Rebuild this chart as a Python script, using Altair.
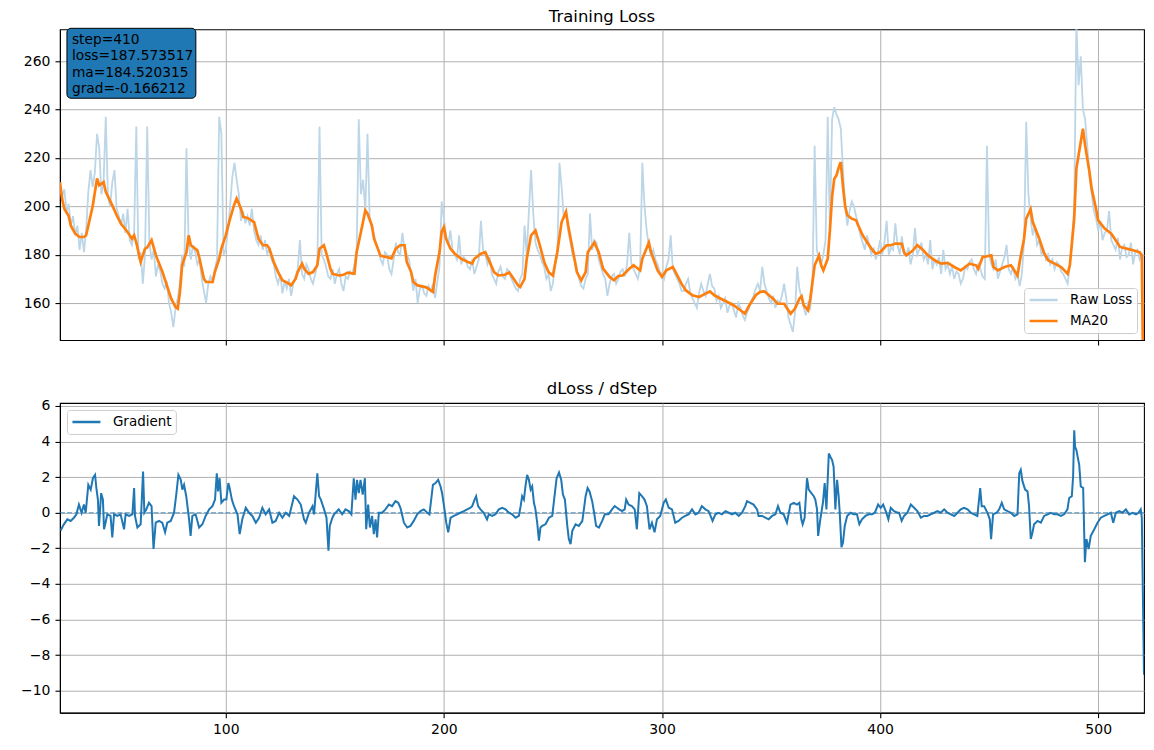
import altair as alt
import pandas as pd

# ---------------- data ----------------
first_step = 24
raw_loss = [
    209, 204, 207, 198, 201, 192, 196, 188, 192, 182,
    189, 181, 190, 206, 215, 208, 214, 230, 224, 205,
    210, 237, 204, 200, 210, 215, 199, 196, 192, 197,
    189, 199, 186, 184, 189, 233, 178, 181, 168, 180,
    233, 185, 178, 182, 171, 176, 173, 168, 166, 169,
    160, 156, 150, 158, 162, 168, 180, 175, 224, 185,
    178, 184, 181, 176, 178, 170, 165, 160, 168, 171,
    169, 174, 178, 237, 230, 180, 182, 190, 200, 212,
    218, 211, 205, 194, 198, 193, 196, 192, 199, 190,
    186, 184, 188, 182, 186, 180, 183, 178, 176, 171,
    168, 172, 164, 169, 166, 170, 163, 168, 171, 174,
    186, 172, 170, 176, 174, 170, 168, 172, 176, 233,
    180, 178, 175, 171, 170, 174, 168, 172, 174, 168,
    165, 171, 170, 173, 172, 176, 180, 236, 205, 211,
    198, 230, 195, 191, 188, 184, 182, 178, 176, 181,
    180, 174, 172, 178, 185, 181, 180, 189, 182, 180,
    178, 172, 165, 170, 160, 166, 167, 164, 163, 167,
    165, 168, 162, 169, 175, 202, 195, 188, 184, 190,
    182, 180, 178, 188, 176, 179, 178, 175, 174, 178,
    172, 175, 178, 194, 182, 180, 176, 179, 172, 170,
    168, 173, 175, 171, 170, 174, 173, 170, 168, 166,
    165, 170, 172, 192, 180, 198, 215, 197, 185, 182,
    180, 177, 175, 170, 172, 165, 168, 176, 180, 218,
    208, 195, 198, 190, 185, 180, 178, 174, 170, 167,
    166, 170, 172, 197, 182, 186, 185, 178, 175, 172,
    170, 163, 168, 171, 172, 168, 170, 173, 174, 171,
    176, 189, 176, 174, 172, 170, 175, 218, 200, 190,
    183, 180, 182, 178, 176, 173, 172, 170, 175, 178,
    188, 174, 172, 170, 168, 165, 165, 168, 170, 164,
    162, 160, 158, 164, 168, 165, 163, 168, 172, 167,
    166, 161, 163, 158, 160, 162, 156, 159, 160, 157,
    154, 160, 158, 155, 153, 156, 158, 161, 163, 166,
    168, 165, 175, 168, 165, 162, 160, 163, 158, 161,
    160, 163, 168, 162, 154, 151, 148, 156, 175, 166,
    162, 158, 155, 160, 158, 168, 225, 182, 178, 176,
    180, 186, 237, 190, 236, 241, 238, 236, 232, 215,
    200, 192, 198, 202, 200, 196, 192, 188, 185, 182,
    188, 184, 180, 183, 178, 181, 186, 180, 185, 194,
    180, 183, 182, 193, 184, 180, 187.6, 180, 180, 183,
    176, 180, 191, 180, 182, 185, 178, 180, 176, 186,
    174, 178, 176, 179, 172, 182, 174, 176, 172, 175,
    170, 173, 172, 168, 170, 175, 174, 177, 178, 174,
    172, 176, 174, 171, 170, 225, 180, 176, 174, 178,
    170, 173, 176, 179, 184, 174, 172, 175, 170, 172,
    167, 172, 185, 235, 205, 195, 188, 192, 184, 186,
    180, 182, 178, 180, 176, 178, 174, 177, 176, 173,
    172, 170, 168, 176, 185, 200, 276, 250, 262, 240,
    236, 225, 212, 205, 198, 195, 190, 194, 186, 189,
    190, 198, 186, 184, 182, 187, 178, 183, 184, 179,
    180, 185, 176, 181, 182, 178, 180, 178,
]
raw_steps = list(range(first_step, first_step + len(raw_loss)))

ma20_points = [
    (24, 210), (25, 203), (26, 199), (28, 196), (29, 192), (31, 188.7), (33, 187.3),
    (35, 187.3), (36, 188), (37, 192), (39, 200), (41, 211.5), (42, 208.7), (44, 210),
    (45, 206), (48, 200.4), (50, 196.3), (52, 192.8), (55, 189.4), (57, 186.6), (58, 188),
    (59, 185), (60, 181), (61, 177), (63, 182.5), (64, 183), (66, 186), (68, 179.7),
    (71, 172.8), (73, 167.3), (75, 161.8), (77, 158.3), (78, 157.7), (79, 164.5),
    (80, 175.6), (82, 181), (83, 188), (84, 183.9), (87, 181.8), (88, 178.3), (90, 170),
    (91, 168.7), (94, 168.7), (95, 172.8), (97, 178.3), (98, 182.5), (100, 188),
    (102, 194.9), (104, 201), (105, 203.2), (107, 199), (108, 195.6), (110, 195.2),
    (113, 193.5), (115, 186.6), (117, 183.9), (119, 183.9), (120, 182.5), (122, 177),
    (124, 172.8), (126, 169.4), (129, 168), (130, 167.3), (132, 170), (133, 172.8),
    (135, 176.3), (136, 174.2), (138, 172.1), (140, 172.8), (142, 175.6), (143, 182.5),
    (145, 183.9), (146, 181), (148, 174.2), (149, 172.1), (152, 171.4), (154, 171.7),
    (156, 172.6), (159, 172.1), (160, 181), (162, 189.4), (164, 198.3), (165, 197),
    (167, 192.1), (168, 186.6), (171, 179.5), (174, 179), (176, 178.5), (178, 182.5),
    (180, 183.9), (182, 183.9), (183, 177), (185, 172.8), (186, 168.7), (188, 167.3),
    (192, 166.5), (194, 165.2), (195, 164.6), (196, 171.4), (198, 181), (199, 189.4),
    (200, 191.4), (201, 186.6), (203, 182.5), (205, 180.4), (208, 178.3), (211, 177),
    (213, 176.3), (214, 178.3), (217, 180.4), (219, 181), (221, 177), (223, 172.8),
    (225, 171.4), (228, 171.7), (230, 172.6), (232, 170), (234, 167.3), (235, 166.6),
    (237, 170), (238, 178.3), (240, 188), (242, 190), (244, 183.9), (246, 177),
    (248, 172.8), (250, 171.4), (252, 181), (254, 193.5), (256, 197.7), (257, 192.1),
    (259, 182.5), (261, 172.8), (263, 169.4), (265, 172.8), (266, 181), (269, 185),
    (271, 181), (273, 174.2), (276, 170.8), (278, 169.4), (280, 171.2), (282, 171.4),
    (285, 174.2), (287, 175.6), (288, 174.9), (290, 173.5), (291, 178.3), (294, 185),
    (295, 181), (298, 173.5), (300, 170.8), (302, 173.5), (305, 174.9), (307, 171.4),
    (309, 167.9), (311, 165.2), (314, 163.2), (317, 162.5), (320, 163.9), (322, 164.8),
    (324, 163.2), (327, 161.8), (330, 160.4), (333, 159), (336, 157), (338, 155.6),
    (340, 159), (343, 163.2), (345, 164.6), (347, 164.8), (350, 162.5), (351, 161.8),
    (353, 159.7), (356, 159.7), (359, 155.6), (361, 157.7), (363, 161.8), (364, 162.8),
    (365, 159), (367, 157), (368, 161.8), (369, 168.7), (370, 175.6), (372, 179.7),
    (373, 175.6), (374, 173.5), (376, 178.3), (377, 190), (378, 204), (379, 211.4),
    (380, 212.8), (381, 216), (382, 218.3), (383, 208), (384, 200), (385, 196.3),
    (387, 194.9), (389, 194.2), (390, 192.1), (392, 188), (394, 185.2), (396, 182.5),
    (398, 180.4), (400, 181), (403, 183.9), (405, 183.9), (407, 184.6), (410, 184.5),
    (411, 181), (412, 179.7), (415, 181.7), (417, 183.9), (419, 182.5), (422, 179.7),
    (425, 177.7), (428, 176.3), (431, 176.6), (434, 174.9), (437, 173.5), (439, 174.9),
    (441, 176.3), (444, 175.6), (445, 174.2), (447, 179), (451, 179.7), (452, 174.9),
    (454, 173.5), (457, 174.9), (460, 175.6), (462, 172.8), (463, 171.4), (464, 177),
    (466, 186.6), (467, 194.9), (469, 198.8), (470, 193.5), (473, 186.6), (475, 181),
    (477, 177.7), (480, 176.3), (483, 174.9), (486, 172.1), (487, 175.6), (489, 194.9),
    (490, 215.6), (492, 226.6), (493, 232.1), (494, 225.2), (496, 214.2), (497, 207.3),
    (499, 199), (500, 194.2), (503, 190.8), (506, 188.7), (508, 186), (510, 183.2),
    (513, 182.5), (516, 181.8), (519, 181), (520, 179.7), (521, 100),
]

gradient_points = [
    (24.3, -1.0), (25.8, -0.65), (27.4, -0.37), (28.9, -0.46), (30.4, -0.28), (31.5, -0.1),
    (32.7, 0.46), (33.9, 0), (35, 0.46), (35.8, 0), (37, 1.57), (38.1, 1.3), (39.1, 1.94),
    (40.1, 2.13), (40.7, 1.39), (41.4, 0.74), (41.9, -0.74), (42.9, 1.1), (43.7, 0.74),
    (44.2, -0.93), (44.9, -0.56), (45.7, -0.09), (47.2, -0.18), (48, -1.39), (48.8, -0.09),
    (50.3, -0.18), (51.8, -0.09), (53.4, -0.93), (54.1, -0.09), (55.7, -0.18), (57.2, -0.09),
    (58, 1.39), (58.4, -0.18), (59.5, -0.83), (61, -0.65), (62.1, 2.31), (62.7, 0),
    (63.6, 0.19), (64.8, 0.56), (66, 0.37), (66.9, -2.04), (67.9, -0.56), (69.4, -0.46),
    (70.9, -0.56), (72.2, -1.1), (73.2, -0.56), (74.8, -0.46), (76.3, 0), (77.4, 1.1),
    (78.3, 2.13), (79.4, 1.85), (80.1, 1.3), (80.9, 1.57), (81.9, 0.93), (83.2, -0.37),
    (83.9, -1.3), (84.7, -0.18), (86.2, -0.09), (87.8, -0.83), (89.3, -0.65), (90.8, -0.18),
    (92.4, 0.19), (93.9, 0.37), (95.1, 0.74), (95.9, 2.22), (96.5, 1.2), (97.2, 1.94),
    (98, 0.56), (99.2, 0.74), (100.3, 0.74), (101.2, 1.67), (101.8, 1.39), (102.8, 0.74),
    (103.8, 0.37), (105.4, -0.09), (106.4, -1.2), (107.6, -0.37), (109.2, 0.28), (110.7, 0),
    (112.2, -0.18), (113.8, -0.56), (115.3, -0.28), (116.8, 0.28), (118.3, -0.09),
    (119.9, 0.19), (121.4, -0.56), (122.9, -0.46), (124.5, 0), (126, -0.28), (127.5, 0),
    (129.1, -0.18), (130.6, 0.56), (131.3, 0.93), (132.9, 0.74), (134.4, 0.46),
    (135.9, -0.37), (136.7, -0.56), (138.2, 0), (139.8, 0.37), (140.5, -0.09), (142, 2.22),
    (142.8, 0.93), (143.6, 0.74), (145.1, 0.19), (146.2, -0.28), (147.1, -2.13),
    (147.7, -0.74), (148.9, -0.28), (149.7, -0.09), (151.8, 0.19), (153.4, -0.09),
    (154.9, 0.19), (156.4, 0.09), (157.6, -0.09), (158.7, 1.94), (159.5, 0.74),
    (160.2, 1.85), (161, 1.1), (161.8, 1.85), (162.8, 1.02), (163.8, 1.94), (164.4, -0.93),
    (165.3, 0.46), (166.1, -0.83), (167.1, -0.18), (167.9, -1.2), (168.7, -0.37),
    (169.4, -1.39), (170.2, 0), (171.7, 0), (173.2, 0.19), (174.8, 0.46), (176.3, 0.37),
    (177.8, 0.65), (179.1, 0.56), (180.1, 0.28), (181.7, -0.56), (183.2, -0.83),
    (184.7, -0.74), (186.2, -0.46), (187.8, -0.09), (189.3, 0.09), (190.8, 0.19),
    (192.4, 0), (193.4, -0.09), (195, 1.57), (196.2, 1.67), (197.4, 1.85), (198.5, 1.48),
    (199.2, 1.1), (200.3, 0.19), (201.1, -0.56), (202, -1.1), (203.1, -0.28),
    (204.6, -0.18), (206.1, -0.09), (207.6, 0), (209.2, 0.09), (210.7, 0.19), (212.2, 0.28),
    (213, 0.37), (214.1, 0.74), (214.8, 0.93), (215.7, 0.37), (216.8, 0.19), (218.3, 0),
    (219.8, -0.37), (220.6, -0.09), (222.2, -0.18), (223.7, -0.09), (225.2, 0.19),
    (226.8, 0.28), (228.3, 0.19), (229.8, 0), (231.3, -0.09), (232.9, -0.28),
    (234.4, -0.18), (235.2, 0.37), (235.9, 0.93), (236.7, 0.74), (237.5, 1.57),
    (238.2, 2.13), (239, 1.85), (239.8, 1.3), (240.5, 1.48), (241.3, 0.56), (242, 0.19),
    (242.8, -0.56), (243.6, -1.57), (244.3, -0.83), (245.1, -0.74), (246.6, -0.65),
    (248.2, -0.28), (249.7, -0.18), (250.9, 1.1), (251.7, 1.94), (252.8, 2.26),
    (253.8, 1.85), (254.6, 1.02), (255.5, 0.74), (256.6, -0.74), (257.3, -1.48),
    (258.1, -1.76), (258.9, -1.02), (260.4, -0.65), (261.9, -0.74), (263.5, -0.46),
    (264.2, 0.19), (265, 0.93), (265.9, 1.39), (266.8, 1.2), (268, 0.65), (268.9, 0),
    (269.8, -0.74), (271.1, -0.83), (272.6, -0.46), (273.8, -0.09), (275.5, -0.09),
    (277.1, 0.19), (278.3, 0.37), (279.4, 0.28), (280.4, 0.19), (281.7, 0.09),
    (282.9, 0.19), (283.6, 0.74), (284.7, 0.46), (286.2, 0.37), (287.5, 0.19),
    (288.5, -0.93), (289.6, 1.1), (290.8, 0.93), (292, 0.74), (293.1, 0.37),
    (294.3, -0.93), (295.4, -0.56), (296.6, -1.1), (297.7, -0.37), (299.2, -0.18),
    (300.8, 0.56), (301.8, 0.74), (303.1, 0.28), (304.6, 0.19), (306.1, -0.56),
    (307.6, -0.46), (309.2, -0.28), (310.7, -0.18), (312.2, -0.09), (313.8, 0.19),
    (315.3, -0.09), (316.8, 0), (318.3, 0.37), (319.9, 0.19), (321.4, 0.09),
    (323.2, -0.46), (324.5, -0.09), (326, 0), (327.5, -0.09), (329.1, 0.09), (330.6, 0),
    (332.1, -0.09), (333.6, 0), (335.2, -0.18), (336.7, 0), (338.2, 0.37), (339, 0.65),
    (340.5, 0.56), (342, 0.46), (343.6, 0.19), (344.3, -0.18), (345.9, -0.18),
    (347.4, -0.28), (348.9, -0.37), (350.5, -0.18), (352, -0.09), (353.2, 0.37),
    (354.3, 0), (355.8, -0.09), (357.3, -0.56), (358.9, 0.46), (360.4, 0.56),
    (361.9, 0.46), (363, 0.56), (363.9, -0.37), (364.5, -0.65), (365.4, -0.28),
    (366.5, 1.94), (367.3, 1.3), (368.5, 1.1), (369.6, 0.93), (370.3, 0.74), (371.1, 0.19),
    (371.6, -1.3), (372.6, -0.37), (373.8, 0.56), (374.6, 1.67), (375.4, 0.19),
    (376.5, 3.33), (377.2, 3.15), (378, 2.96), (378.7, 2.59), (379.5, 0.19), (380.3, 1.85),
    (381, 0.93), (381.5, 0), (382.3, -1.94), (383, -1.67), (383.8, -0.74), (384.9, -0.18),
    (386.4, 0), (387.9, -0.09), (389.4, -0.09), (390.5, -0.65), (391.7, -0.37),
    (393.3, -0.18), (394.8, -0.09), (396.3, -0.09), (397.6, 0), (399.1, 0.46),
    (400.3, 0.28), (401.4, 0.46), (402.6, 0.09), (403.8, -0.37), (404.9, 0.28),
    (406.4, 0.09), (408, 0), (408.7, 0), (409.9, -0.46), (411, -0.18), (412.5, 0),
    (414.1, 0.46), (415.6, 0.28), (417.1, 0.09), (418.7, -0.28), (420.2, -0.18),
    (421.7, -0.18), (423.2, -0.09), (424.8, 0), (426.3, 0.09), (427.8, 0), (429.4, 0.19),
    (430.9, 0), (432.4, -0.09), (434, -0.18), (435.5, 0), (437, 0.19), (438.5, 0.28),
    (440.1, 0.19), (441.6, 0), (443.1, -0.09), (444.6, -0.18), (445.9, 1.39),
    (446.6, 0.37), (447.7, 0.37), (449.2, 0), (450.3, -0.37), (450.9, -1.48),
    (451.8, -0.09), (453.4, 0), (454.6, 0.19), (455.8, 0.56), (456.9, 0.19), (458.4, 0.09),
    (460, 0), (461.5, -0.18), (463, -0.09), (463.8, 2.22), (464.5, 2.41), (465.3, 1.76),
    (466.5, 1.3), (467.6, 1.2), (468.3, 0.37), (469.1, -1.48), (469.9, -1.1),
    (470.6, -0.65), (472.2, -0.46), (473.7, -0.56), (475.2, -0.18), (476.8, -0.09),
    (478.3, 0), (479.8, -0.09), (481.3, -0.09), (482.9, -0.18), (484.4, -0.09),
    (485.9, 0.19), (486.7, 0.83), (487.9, 0.93), (488.5, 2.04), (489, 4.63), (489.4, 3.7),
    (490, 3.52), (491.3, 2.69), (492, 1.48), (493.1, 1.39), (493.9, -2.78), (494.6, -1.48),
    (495.6, -2.04), (496.6, -1.3), (498.2, -0.93), (499.7, -0.56), (501.2, -0.28),
    (502.8, -0.18), (504.3, -0.09), (505.8, 0), (506.9, -0.56), (508.1, 0), (509.6, 0.09),
    (511.2, 0), (512.7, 0.19), (514.2, -0.09), (515.7, 0), (517.3, -0.09), (518.5, 0),
    (519.5, 0.19), (520, -0.28), (521, -9.1),
]

info_lines = ["step=410", "loss=187.573517", "ma=184.520315", "grad=-0.166212"]
x_ticks = [100, 200, 300, 400, 500]
loss_ticks = [160, 180, 200, 220, 240, 260]
grad_ticks = [-10, -8, -6, -4, -2, 0, 2, 4, 6]
top_series = ["Raw Loss", "MA20"]
bottom_series = ["Gradient"]

# ---------------- styling ----------------
FONT = "DejaVu Sans"
C0 = "#1f77b4"
C1 = "#ff7f0e"
RAW = "#bcd6e8"
W = 1085

raw_df = pd.DataFrame({"step": raw_steps, "value": raw_loss, "series": top_series[0]})
ma_df = pd.DataFrame({"step": [p[0] for p in ma20_points],
                      "value": [p[1] for p in ma20_points], "series": top_series[1]})
grad_df = pd.DataFrame({"step": [p[0] for p in gradient_points],
                        "value": [p[1] for p in gradient_points], "series": bottom_series[0]})
zero_df = pd.DataFrame({"value": [0]})
info_df = pd.DataFrame({"text": ["\n".join(info_lines)]})

xscale = alt.Scale(domain=[24, 521], nice=False, zero=False)
loss_scale = alt.Scale(domain=[144.7, 273.2], nice=False, zero=False)
grad_scale = alt.Scale(domain=[-11.24, 6.17], nice=False, zero=False)

legend_common = dict(
    title=None, symbolType="stroke", symbolSize=784, symbolStrokeWidth=2.5,
    clipHeight=16, labelFont=FONT, labelFontSize=13.5, labelColor="black",
    labelOffset=11, strokeColor="#cccccc", fillColor="rgba(255,255,255,0.8)",
    cornerRadius=3, padding=4, rowPadding=5, offset=7,
)

title_kw = dict(font=FONT, fontSize=16.5, fontWeight="normal", color="black",
                offset=0, dy=-2)

x_top = alt.X("step:Q", scale=xscale,
              axis=alt.Axis(values=x_ticks, labels=False, title=None))
y_top = alt.Y("value:Q", scale=loss_scale,
              axis=alt.Axis(values=loss_ticks, title=None, minExtent=46, maxExtent=46))
color_top = alt.Color("series:N",
                      scale=alt.Scale(domain=top_series, range=[RAW, C1]),
                      legend=alt.Legend(orient="bottom-right", **legend_common))

raw_line = alt.Chart(raw_df).mark_line(strokeWidth=1.8, clip=True).encode(
    x=x_top, y=y_top, color=color_top)
ma_line = alt.Chart(ma_df).mark_line(strokeWidth=2.7, clip=True).encode(
    x=x_top, y=y_top, color=color_top)
info_box = alt.Chart(info_df).mark_rect(
    fill=C0, stroke="black", strokeWidth=1, cornerRadius=4).encode(
    x=alt.value(7), x2=alt.value(136), y=alt.value(-1), y2=alt.value(69))
info_text = alt.Chart(info_df).mark_text(
    align="left", baseline="top", lineBreak="\n", lineHeight=16.4,
    font=FONT, fontSize=13.8, color="black").encode(
    x=alt.value(12), y=alt.value(3.5), text="text:N")

top = alt.layer(raw_line, ma_line, info_box, info_text).properties(
    width=W, height=311, title=alt.TitleParams("Training Loss", **title_kw))

x_bot = alt.X("step:Q", scale=xscale,
              axis=alt.Axis(values=x_ticks, title=None, format="d"))
y_bot = alt.Y("value:Q", scale=grad_scale,
              axis=alt.Axis(values=grad_ticks, title=None, format="d",
                            labelOverlap=False, minExtent=46, maxExtent=46))
color_bot = alt.Color("series:N",
                      scale=alt.Scale(domain=bottom_series, range=[C0]),
                      legend=alt.Legend(orient="top-left", **legend_common))

zero_rule = alt.Chart(zero_df).mark_rule(
    color=C0, strokeDash=[5, 2.2], strokeWidth=1.2, opacity=0.75).encode(y=y_bot)
grad_line = alt.Chart(grad_df).mark_line(strokeWidth=2, clip=True).encode(
    x=x_bot, y=y_bot, color=color_bot)

bottom = alt.layer(zero_rule, grad_line).properties(
    width=W, height=310, title=alt.TitleParams("dLoss / dStep", **title_kw))

chart = alt.vconcat(top, bottom, spacing=32).resolve_scale(
    color="independent", y="independent", x="independent"
).resolve_legend(color="independent").properties(
    padding={"left": 5, "top": 0, "right": 0, "bottom": 0}
).configure_view(
    stroke="black", strokeWidth=1.1
).configure_axis(
    domainColor="black", domainWidth=1.1, tickColor="black", tickWidth=1.1,
    tickSize=5, labelPadding=5, gridColor="#b0b0b0", gridWidth=1.0,
    labelFont=FONT, labelFontSize=14, labelColor="black"
).configure_title(anchor="middle")

chart.save("out.html", embed_options={"renderer": "svg", "actions": False})
